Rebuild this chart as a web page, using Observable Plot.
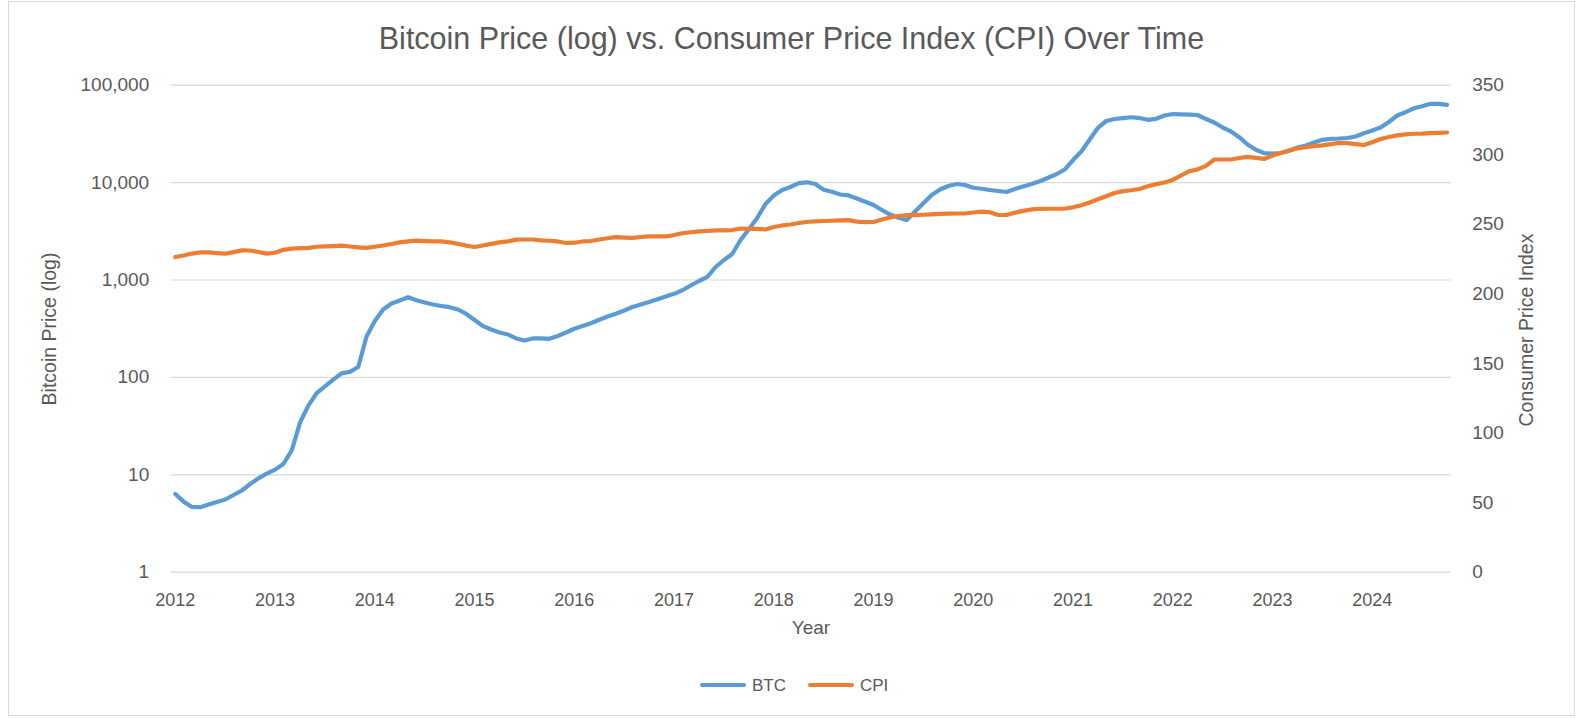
<!DOCTYPE html>
<html>
<head>
<meta charset="utf-8">
<script src="https://cdn.jsdelivr.net/npm/d3@7"></script>
<script src="https://cdn.jsdelivr.net/npm/@observablehq/plot@0.6"></script>
<style>
  body { margin: 0; background: #fff; font-family: "Liberation Sans", Arial, sans-serif; color: #595959; }
  #wrap { position: relative; width: 1583px; height: 719px; overflow: hidden; background: #fff; }
  #frame { position: absolute; left: 8px; top: 1px; width: 1567px; height: 715px; border: 1px solid #D9D9D9; box-sizing: border-box; }
  #chart { position: absolute; left: 0; top: 0; }
  .lbl { position: absolute; white-space: nowrap; line-height: 1; }
  #title { left: 0; width: 1583px; top: 23px; text-align: center; font-size: 30.5px; }
  #xtitle { left: 811px; top: 627px; transform: translate(-50%, -50%); font-size: 19px; }
  #ytitle { left: 50px; top: 329px; transform: translate(-50%, -50%) rotate(-90deg); font-size: 19.5px; }
  #y2title { left: 1527px; top: 330px; transform: translate(-50%, -50%) rotate(-90deg); font-size: 19.5px; }
  .sw { position: absolute; height: 4px; border-radius: 2px; top: 683px; }
  .lt { position: absolute; top: 685px; transform: translateY(-50%); font-size: 17px; line-height: 1; }
  #chart svg g[aria-label="y-axis tick label"] { font-size: 19px; }
</style>
</head>
<body>
<div id="wrap">
  <div id="frame"></div>
  <div id="chart"></div>
  <div id="title" class="lbl"></div>
  <div id="xtitle" class="lbl"></div>
  <div id="ytitle" class="lbl"></div>
  <div id="y2title" class="lbl"></div>
  <div id="legend"></div>
</div>
<script>
// ---- Data (monthly, Jan 2012 – Oct 2024) ----
const startYear = 2012;
const yearLabels = [2012, 2013, 2014, 2015, 2016, 2017, 2018, 2019, 2020, 2021, 2022, 2023, 2024];
const btcTicks = [1, 10, 100, 1000, 10000, 100000];
const cpiTicks = [0, 50, 100, 150, 200, 250, 300, 350];
const seriesNames = ["BTC", "CPI"];
const seriesColors = ["#5B9BD5", "#ED7D31"];
const titleText = "Bitcoin Price (log) vs. Consumer Price Index (CPI) Over Time";
const xTitle = "Year";
const yTitle = "Bitcoin Price (log)";
const y2Title = "Consumer Price Index";

const btc = [
  6.35, 5.3, 4.67, 4.65, 4.95, 5.26, 5.58, 6.2, 6.9, 8.05, 9.2, 10.3,
  11.3, 12.9, 17.8, 34.4, 51.4, 69, 81, 95, 110, 114, 128, 263,
  379, 498, 574, 617, 666, 621, 588, 560, 541, 526, 498, 448,
  388, 337, 310, 289, 276, 251, 239, 251, 251, 249, 266, 289,
  316, 337, 360, 391, 422, 451, 486, 528, 560, 594, 635, 677,
  721, 784, 878, 977, 1074, 1360, 1605, 1850, 2575, 3320, 4330, 6030,
  7380, 8400, 9010, 9860, 10070, 9680, 8440, 8050, 7550, 7380, 6870, 6350,
  5890, 5230, 4700, 4350, 4130, 5050, 6150, 7460, 8490, 9230, 9680, 9450,
  8850, 8640, 8400, 8200, 8000, 8590, 9120, 9680, 10330, 11200, 12170, 13620,
  17050, 20860, 27700, 36550, 42900, 44950, 46000, 46900, 46000, 44130, 45190, 48870,
  50600, 50230, 49870, 49430, 44950, 41400, 36800, 33500, 29270, 24600, 21710, 20050,
  19800, 20140, 21270, 22920, 24040, 25800, 27490, 28150, 28360, 28720, 29740, 32060,
  34270, 36800, 41920, 48870, 52840, 57930, 60820, 64400, 64400, 62920
];

const cpi = [
  226.5, 227.6, 229.0, 229.9, 229.8, 229.3, 228.9, 230.0, 231.3, 231.2, 230.1, 229.0,
  229.6, 231.7, 232.6, 232.9, 233.1, 233.9, 234.2, 234.4, 234.7, 234.1, 233.4, 233.1,
  233.9, 234.8, 235.9, 237.0, 237.7, 238.3, 238.0, 237.8, 237.7, 237.1, 236.0, 234.7,
  233.7, 234.8, 236.0, 237.0, 237.7, 239.0, 239.1, 239.1, 238.5, 238.2, 237.7, 236.6,
  236.8, 237.7, 238.0, 239.1, 240.0, 240.8, 240.5, 240.3, 240.9, 241.3, 241.3, 241.3,
  242.3, 243.6, 244.3, 244.9, 245.2, 245.6, 245.6, 245.9, 247.0, 246.8, 246.7, 246.3,
  248.1, 249.2, 249.9, 251.0, 251.7, 252.2, 252.4, 252.6, 252.8, 253.0, 252.0, 251.6,
  251.7, 253.5, 254.9, 256.0, 256.6, 256.6, 256.9, 257.2, 257.5, 257.7, 257.8, 257.8,
  258.5, 259.2, 258.7, 256.7, 256.7, 258.3, 259.7, 260.7, 261.1, 261.2, 261.2, 261.2,
  262.3, 263.7, 265.7, 268.0, 270.2, 272.5, 273.9, 274.5, 275.4, 277.4, 278.9, 280.1,
  281.9, 285.1, 288.2, 289.5, 292.0, 296.6, 296.6, 296.6, 297.7, 298.5, 297.8, 297.0,
  299.5, 301.3, 303.1, 304.5, 305.4, 306.1, 306.7, 307.6, 308.6, 308.4, 307.7, 307.0,
  309.0, 311.3, 312.8, 313.9, 314.6, 315.1, 315.2, 315.5, 315.8, 316.0
];

// The y scale is linear in decades (log10 of BTC price: 0..5).
// CPI (0..350, linear) is mapped onto the same 0..5 range for the secondary axis.
const cpiMax = 350;
const decades = Math.log10(btcTicks[btcTicks.length - 1]);
const cpiToDec = c => c * decades / cpiMax;
const decToCpi = v => Math.round(v * cpiMax / decades);
const fmtComma = d3.format(",");

const chart = Plot.plot({
  width: 1583,
  height: 719,
  marginLeft: 170.7,
  marginRight: 132.3,
  marginTop: 84.7,
  marginBottom: 147.3,
  style: {
    fontFamily: "'Liberation Sans', Arial, sans-serif",
    fontSize: "18px",
    color: "#595959",
    background: "transparent",
    overflow: "visible"
  },
  x: { type: "linear", domain: [-0.5, btc.length - 0.5] },
  y: { type: "linear", domain: [0, decades] },
  marks: [
    Plot.gridY(btcTicks.map(Math.log10), { stroke: "#D9D9D9", strokeOpacity: 1, strokeWidth: 1.2 }),
    Plot.axisY(btcTicks.map(Math.log10), { anchor: "left", tickSize: 0, tickPadding: 22, fontSize: 19, tickFormat: d => fmtComma(Math.round(Math.pow(10, d))), label: null }),
    Plot.axisY(cpiTicks.map(cpiToDec), { anchor: "right", tickSize: 0, tickPadding: 21, tickFormat: decToCpi, label: null }),
    Plot.axisX(yearLabels.map(y => (y - startYear) * 12), { anchor: "bottom", tickSize: 0, tickPadding: 21, tickFormat: i => String(startYear + i / 12), label: null }),
    Plot.lineY(btc, { x: (d, i) => i, y: d => Math.log10(d), stroke: seriesColors[0], strokeWidth: 4.2 }),
    Plot.lineY(cpi, { x: (d, i) => i, y: d => cpiToDec(d), stroke: seriesColors[1], strokeWidth: 4.2 })
  ]
});
document.getElementById("chart").appendChild(chart);

document.getElementById("title").textContent = titleText;
document.getElementById("xtitle").textContent = xTitle;
document.getElementById("ytitle").textContent = yTitle;
document.getElementById("y2title").textContent = y2Title;

// Legend
const legend = document.getElementById("legend");
const legendPos = [{ sw: 700, tx: 752 }, { sw: 808, tx: 860 }];
seriesNames.forEach((name, k) => {
  const s = document.createElement("div");
  s.className = "sw";
  s.style.left = legendPos[k].sw + "px";
  s.style.width = "46px";
  s.style.background = seriesColors[k];
  legend.appendChild(s);
  const t = document.createElement("div");
  t.className = "lt";
  t.style.left = legendPos[k].tx + "px";
  t.textContent = name;
  legend.appendChild(t);
});
</script>
</body>
</html>
